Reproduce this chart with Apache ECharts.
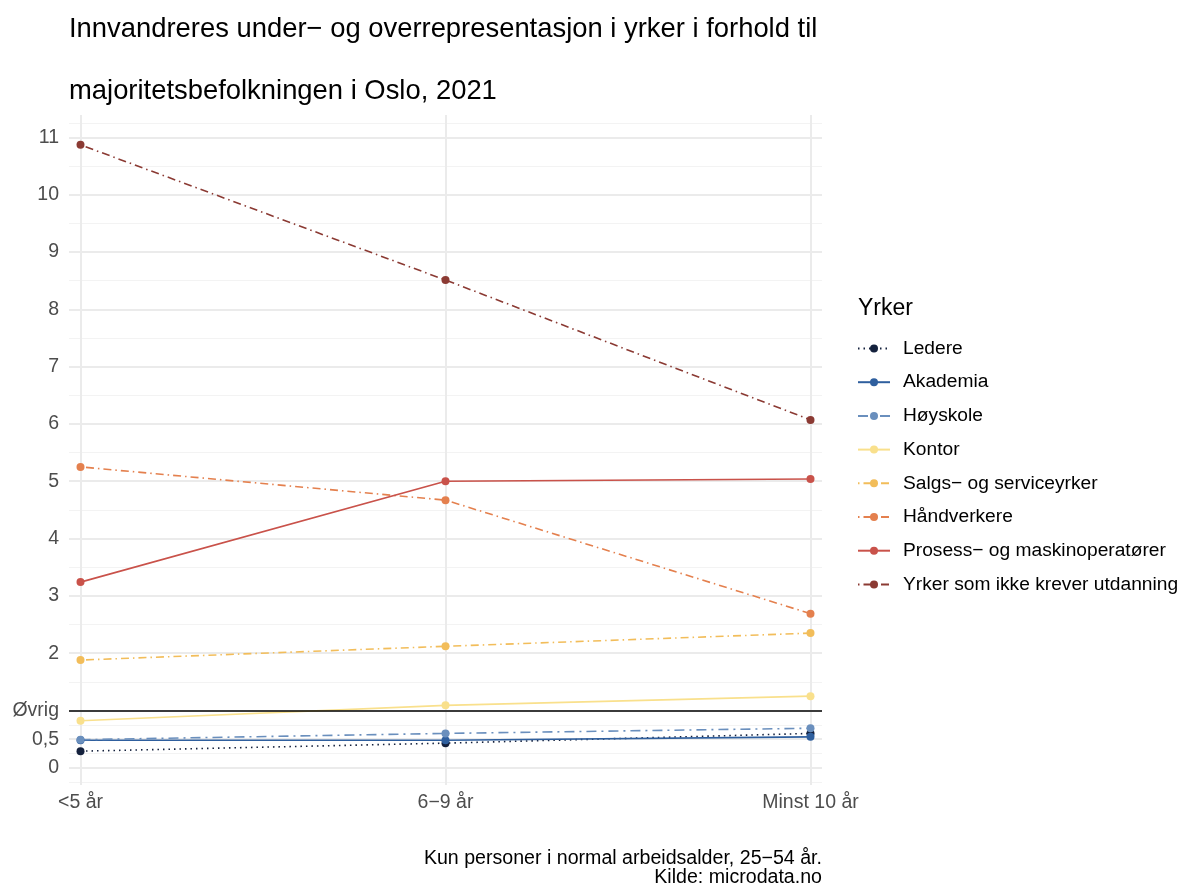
<!DOCTYPE html>
<html>
<head>
<meta charset="utf-8">
<script src="https://cdn.jsdelivr.net/npm/echarts@6/dist/echarts.min.js"></script>
<style>
  html, body { margin: 0; padding: 0; background: #fff; }
  #chart { width: 1184px; height: 885px; }
</style>
</head>
<body>
<div id="chart"></div>
<script>
  // kategorier (botid)
  var categories = ['<5 år', '6\u22129 år', 'Minst 10 år']

  // verdier per yrke, lest av figuren
  var ledere = [0.29, 0.43, 0.60]
  var akademia = [0.48, 0.48, 0.54]
  var hoyskole = [0.49, 0.60, 0.69]
  var kontor = [0.82, 1.09, 1.25]
  var salgs = [1.88, 2.12, 2.35]
  var handverkere = [5.25, 4.67, 2.69]
  var prosess = [3.24, 5.00, 5.04]
  var ikkeUtdanning = [10.87, 8.51, 6.07]

  var yMajor = [0, 0.5, 1, 2, 3, 4, 5, 6, 7, 8, 9, 10, 11]
  var yMinor = [-0.25, 0.25, 0.75, 1.5, 2.5, 3.5, 4.5, 5.5, 6.5, 7.5, 8.5, 9.5, 10.5, 11.25]

  var font = 'Liberation Sans, Arial, sans-serif'
  var chart = echarts.init(document.getElementById('chart'))

  function makeSeries(name, values, color, type) {
    return {
      name: name,
      type: 'line',
      data: values.map(function (v, i) { return [i, v] }),
      symbol: 'circle',
      symbolSize: 8,
      itemStyle: { color: color },
      lineStyle: { color: color, width: 1.6, type: type },
      emphasis: { disabled: true },
      animation: false
    }
  }

  var dotdash = [1.5, 4, 8, 4]
  var series = [
    makeSeries('Ledere', ledere, '#14213d', [1.5, 4]),
    makeSeries('Akademia', akademia, '#2f5f9e', 'solid'),
    makeSeries('Høyskole', hoyskole, '#6a8fbd', [10, 5, 2, 5]),
    makeSeries('Kontor', kontor, '#f9e08c', 'solid'),
    makeSeries('Salgs\u2212 og serviceyrker', salgs, '#f2bd5a', dotdash),
    makeSeries('Håndverkere', handverkere, '#e4804e', dotdash),
    makeSeries('Prosess\u2212 og maskinoperatører', prosess, '#c9524a', 'solid'),
    makeSeries('Yrker som ikke krever utdanning', ikkeUtdanning, '#8b3a33', dotdash)
  ]
  // svart referanselinje ved 1 (Øvrig)
  series[0].markLine = {
    silent: true,
    symbol: 'none',
    label: { show: false },
    lineStyle: { color: '#000', width: 1.6, type: 'solid' },
    data: [{ yAxis: 1 }],
    animation: false
  }

  chart.setOption({
    backgroundColor: '#fff',
    textStyle: { fontFamily: font },
    title: [
      {
        text: 'Innvandreres under\u2212 og overrepresentasjon i yrker i forhold til',
        left: 64, top: 11,
        textStyle: { fontSize: 27.4, fontWeight: 'normal', color: '#000', fontFamily: font }
      },
      {
        text: 'majoritetsbefolkningen i Oslo, 2021',
        left: 64, top: 73,
        textStyle: { fontSize: 27.4, fontWeight: 'normal', color: '#000', fontFamily: font }
      },
      {
        text: 'Yrker',
        left: 853, top: 292,
        textStyle: { fontSize: 23, fontWeight: 'normal', color: '#000', fontFamily: font }
      }
    ],
    graphic: [
      {
        type: 'text',
        x: 822, y: 849,
        style: {
          text: 'Kun personer i normal arbeidsalder, 25\u221254 år.\nKilde: microdata.no',
          align: 'right',
          font: '19.6px ' + font,
          lineHeight: 19,
          fill: '#000'
        }
      }
    ],
    legend: {
      orient: 'vertical',
      left: 852, top: 334,
      itemWidth: 32, itemHeight: 10,
      itemGap: 14.7,
      textStyle: { fontSize: 19.2, color: '#000', fontFamily: font, padding: [0, 0, 0, 8] },
      data: series.map(function (s) { return s.name })
    },
    grid: { left: 69, right: 362, top: 115, bottom: 100 },
    xAxis: {
      type: 'value',
      min: -0.0315, max: 2.0315,
      axisLine: { show: false },
      axisTick: { show: false, customValues: [0, 1, 2] },
      axisLabel: {
        customValues: [0, 1, 2],
        formatter: function (v) { return categories[Math.round(v)] },
        fontSize: 19.5, color: '#4d4d4d', margin: 8
      },
      splitLine: { show: true, lineStyle: { color: '#ebebeb', width: 2 } }
    },
    yAxis: [
      {
        type: 'value',
        min: -0.3, max: 11.39,
        axisLine: { show: false },
        axisTick: { show: false, customValues: yMajor },
        axisLabel: {
          customValues: yMajor,
          formatter: function (v) { return v === 1 ? 'Øvrig' : String(v).replace('.', ',') },
          fontSize: 19.5, color: '#4d4d4d', margin: 10
        },
        splitLine: { show: true, lineStyle: { color: '#ebebeb', width: 2 } }
      },
      {
        type: 'value',
        min: -0.3, max: 11.39,
        axisLine: { show: false },
        axisTick: { show: false, customValues: yMinor },
        axisLabel: { show: false, customValues: yMinor },
        splitLine: { show: true, lineStyle: { color: '#f3f3f3', width: 1 } }
      }
    ],
    series: series
  })
</script>
</body>
</html>
